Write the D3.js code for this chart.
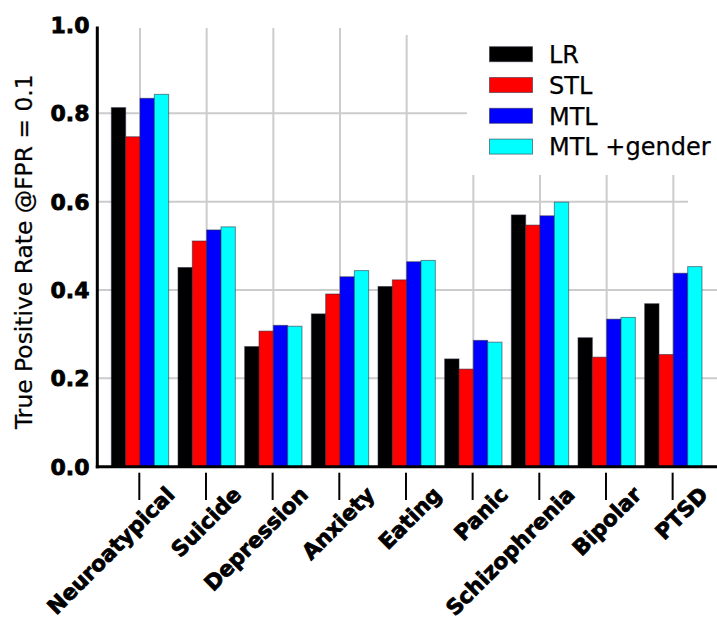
<!DOCTYPE html>
<html>
<head>
<meta charset="utf-8">
<script src="https://cdn.jsdelivr.net/npm/d3@7"></script>
<style>
  html, body { margin: 0; padding: 0; background: #fff; }
  svg { display: block; font-family: "DejaVu Sans", Verdana, sans-serif; }
</style>
</head>
<body>
<svg id="chart" width="717" height="624"></svg>
<script>
const categories = ["Neuroatypical", "Suicide", "Depression", "Anxiety", "Eating", "Panic", "Schizophrenia", "Bipolar", "PTSD"];
const seriesNames = ["LR", "STL", "MTL", "MTL +gender"];
const seriesColors = ["#000000", "#ff0000", "#0000ff", "#00ffff"];
const LR          = [0.813, 0.451, 0.272, 0.346, 0.408, 0.244, 0.570, 0.292, 0.369];
const STL         = [0.747, 0.511, 0.307, 0.391, 0.423, 0.221, 0.547, 0.248, 0.254];
const MTL         = [0.834, 0.536, 0.320, 0.430, 0.464, 0.286, 0.568, 0.334, 0.438];
const MTL_gender  = [0.843, 0.543, 0.318, 0.444, 0.467, 0.282, 0.599, 0.338, 0.453];
const yTicks = [0.0, 0.2, 0.4, 0.6, 0.8, 1.0];
const yLabel = "True Positive Rate @FPR = 0.1";

const seriesValues = [LR, STL, MTL, MTL_gender];
const svg = d3.select("#chart");
const W = 717;

const y = d3.scaleLinear().domain([0, 1]).range([466.7, 25]);
const x = d3.scaleBand().domain(categories).range([106.67, 706.67]).paddingInner(0.14).paddingOuter(0.07);
const xs = d3.scaleBand().domain(seriesNames).range([0, x.bandwidth()]);
const cx = c => x(c) + x.bandwidth() / 2;

// grid
const grid = svg.append("g").attr("stroke", "#cccccc").attr("stroke-width", 2);
grid.selectAll("line.h").data(yTicks.filter(t => t > 0 && t < 1)).join("line")
  .attr("x1", 98).attr("x2", d => d === 0.6 ? 688 : W)
  .attr("y1", d => y(d)).attr("y2", d => y(d));
grid.selectAll("line.v").data(categories).join("line")
  .attr("x1", d => cx(d)).attr("x2", d => cx(d))
  .attr("y1", (d, i) => i === 4 ? 35 : 28).attr("y2", y(0));

// bars
seriesValues.forEach((vals, si) => {
  svg.append("g").selectAll("rect").data(categories).join("rect")
    .attr("x", (c) => x(c) + xs(seriesNames[si]))
    .attr("width", xs.bandwidth())
    .attr("y", (c, i) => y(vals[i]))
    .attr("height", (c, i) => y(0) - y(vals[i]))
    .attr("fill", seriesColors[si])
    .attr("stroke", "rgba(40,40,60,0.55)")
    .attr("stroke-width", 1);
});

// legend background and entries
svg.append("rect").attr("x", 467).attr("y", 0).attr("width", W - 467).attr("height", 175).attr("fill", "#fff");
const leg = svg.append("g");
seriesNames.forEach((n, i) => {
  const cy = 54.2 + i * 30.8;
  leg.append("rect").attr("x", 489.5).attr("y", cy - 7.5).attr("width", 43).attr("height", 15)
    .attr("fill", seriesColors[i]).attr("stroke", "rgba(40,40,60,0.55)").attr("stroke-width", 1);
  leg.append("text").attr("x", 549).attr("y", cy + 8.7).attr("font-size", 24).attr("fill", "#000")
    .attr("stroke", "#000").attr("stroke-width", 0.25).text(n);
});

// axes lines
svg.append("line").attr("x1", 97.3).attr("x2", 97.3).attr("y1", 26.5).attr("y2", 468.2)
  .attr("stroke", "#000").attr("stroke-width", 3);
svg.append("line").attr("x1", 95.8).attr("x2", W).attr("y1", 466.7).attr("y2", 466.7)
  .attr("stroke", "#000").attr("stroke-width", 3);

// y tick labels
svg.append("g").selectAll("text").data(yTicks).join("text")
  .attr("x", 89.5).attr("y", d => y(d)).attr("dy", "0.36em")
  .attr("text-anchor", "end").attr("font-size", 22).attr("font-weight", "bold")
  .attr("stroke", "#000").attr("stroke-width", 0.8)
  .text(d => d3.format(".1f")(d));

// x ticks
svg.append("g").selectAll("line").data(categories).join("line")
  .attr("x1", d => cx(d) - 0.7).attr("x2", d => cx(d) - 0.7)
  .attr("y1", 472.7).attr("y2", 500)
  .attr("stroke", "#000").attr("stroke-width", 2);

// x labels
svg.append("g").selectAll("text").data(categories).join("text")
  .attr("transform", d => `translate(${cx(d) + 36},${496}) rotate(-45)`)
  .attr("text-anchor", "end").attr("font-size", 21.5).attr("font-weight", "bold")
  .attr("stroke", "#000").attr("stroke-width", 0.8)
  .text(d => d);

// y label
svg.append("text")
  .attr("transform", `translate(32,${(431.7 + 71.7) / 2}) rotate(-90)`)
  .attr("text-anchor", "middle").attr("font-size", 23.4)
  .attr("stroke", "#000").attr("stroke-width", 0.25)
  .text(yLabel);
</script>
</body>
</html>
